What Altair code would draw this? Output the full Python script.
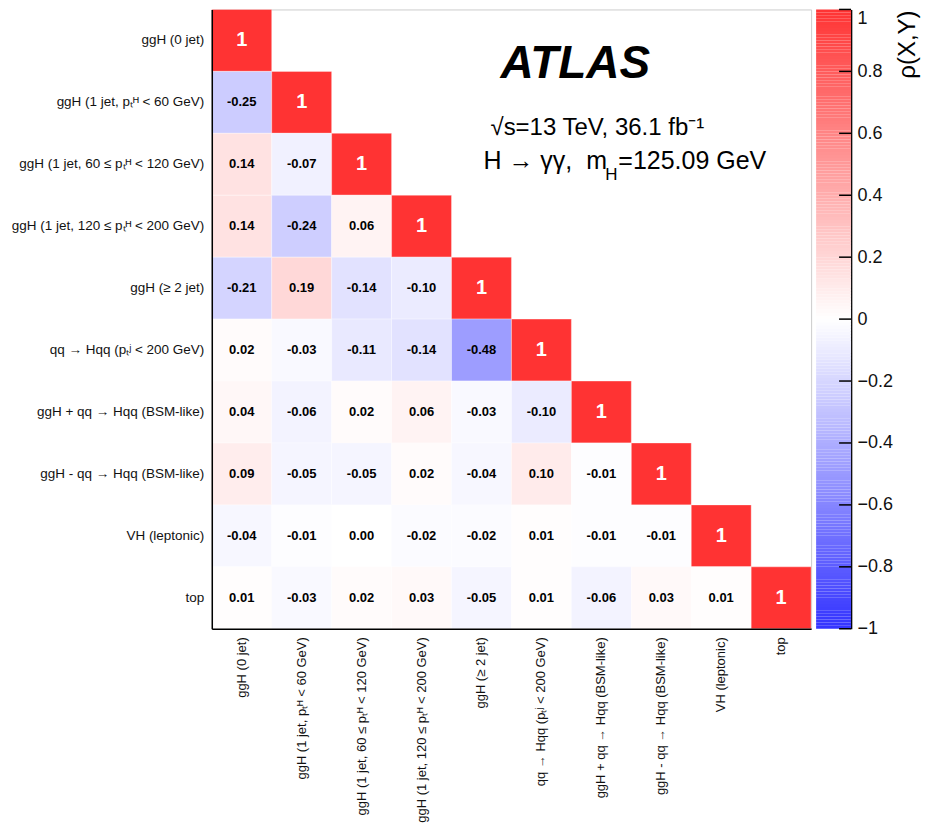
import altair as alt
import pandas as pd
import numpy as np

categories = [
    "ggH (0 jet)",
    "ggH (1 jet, pₜᴴ < 60 GeV)",
    "ggH (1 jet, 60 ≤ pₜᴴ < 120 GeV)",
    "ggH (1 jet, 120 ≤ pₜᴴ < 200 GeV)",
    "ggH (≥ 2 jet)",
    "qq → Hqq (pₜʲ < 200 GeV)",
    "ggH + qq → Hqq (BSM-like)",
    "ggH - qq → Hqq (BSM-like)",
    "VH (leptonic)",
    "top",
]

rows_vals = [
    [1],
    [-0.25, 1],
    [0.14, -0.07, 1],
    [0.14, -0.24, 0.06, 1],
    [-0.21, 0.19, -0.14, -0.10, 1],
    [0.02, -0.03, -0.11, -0.14, -0.48, 1],
    [0.04, -0.06, 0.02, 0.06, -0.03, -0.10, 1],
    [0.09, -0.05, -0.05, 0.02, -0.04, 0.10, -0.01, 1],
    [-0.04, -0.01, 0.00, -0.02, -0.02, 0.01, -0.01, -0.01, 1],
    [0.01, -0.03, 0.02, 0.03, -0.05, 0.01, -0.06, 0.03, 0.01, 1],
]

tick_values = [-1, -0.8, -0.6, -0.4, -0.2, 0, 0.2, 0.4, 0.6, 0.8, 1]

recs = []
for i, row in enumerate(rows_vals):
    for j, v in enumerate(row):
        recs.append({
            "row": categories[i],
            "col": categories[j],
            "v": v,
            "diag": i == j,
            "label": "1" if i == j else f"{v:.2f}",
        })
df = pd.DataFrame(recs)

FONT = "Liberation Sans"
color_scale = alt.Scale(domain=[-1, 0, 1], range=["#3333ff", "#ffffff", "#ff3333"],
                        interpolate="rgb")

x_enc = alt.X(
    "col:N",
    scale=alt.Scale(domain=categories, paddingInner=0, paddingOuter=0),
    axis=alt.Axis(title=None, labelAngle=270, labelAlign="right", labelBaseline="middle",
                  labelPadding=8, ticks=False, domainColor="black", domainWidth=1.5,
                  labelFontSize=13, labelColor="#111111", labelLimit=400),
)
y_enc = alt.Y(
    "row:N",
    scale=alt.Scale(domain=categories, paddingInner=0, paddingOuter=0),
    axis=alt.Axis(title=None, labelPadding=8, ticks=False, domainColor="black", domainWidth=1.5,
                  labelFontSize=13.5, labelColor="#111111", labelLimit=400,
                  minExtent=203, maxExtent=203),
)

base = alt.Chart(df)
heat = base.mark_rect(stroke="white", strokeOpacity=0.35, strokeWidth=1).encode(
    x=x_enc, y=y_enc,
    color=alt.Color("v:Q", scale=color_scale, legend=None),
)
text_off = base.transform_filter("!datum.diag").mark_text(
    fontWeight="bold", fontSize=13, color="black", font=FONT
).encode(x=x_enc, y=y_enc, text="label:N")
text_diag = base.transform_filter("datum.diag").mark_text(
    fontWeight="bold", fontSize=20, color="white", font=FONT
).encode(x=x_enc, y=y_enc, text="label:N")


def annot(txt, x, y, size, **kw):
    return alt.Chart(pd.DataFrame({"t": [txt]})).mark_text(
        align="left", baseline="alphabetic", fontSize=size, font=FONT, color="black", **kw
    ).encode(x=alt.value(x), y=alt.value(y), text="t:N")


atlas = annot("ATLAS", 289, 69, 46, fontWeight="bold", fontStyle="italic")
lumi = annot("√s=13 TeV, 36.1 fb⁻¹", 279, 126, 24)
proc1 = annot("H → γγ, \u00a0m", 272, 160, 25)
proc_sub = annot("H", 394, 171, 17)
proc2 = annot("=125.09 GeV", 407, 160, 25)

main = alt.layer(heat, text_off, text_diag, atlas, lumi, proc1, proc_sub, proc2).properties(
    width=600, height=620, view=alt.ViewBackground(stroke="#cccccc", strokeWidth=1)
)

# colour bar
edges = np.linspace(-1, 1, 201)
cb_df = pd.DataFrame({"v": edges[:-1], "v2": edges[1:], "m": (edges[:-1] + edges[1:]) / 2})
cb_y_scale = alt.Scale(domain=[-1, 1], nice=False, zero=False)
cb_rect = alt.Chart(cb_df).mark_rect().encode(
    y=alt.Y("v:Q", scale=cb_y_scale,
            axis=alt.Axis(orient="right", values=tick_values, format="~g", ticks=False,
                          labelPadding=6, labelFontSize=18, labelColor="#111111",
                          labelBaseline={"condition": {"test": "datum.value >= 1", "value": "top"},
                                         "value": "middle"},
                          domainColor="black", domainWidth=1.5, title=None, grid=False,
                          labelFlush=False, labelOverlap=False)),
    y2="v2:Q",
    color=alt.Color("m:Q", scale=color_scale, legend=None),
)
cb_ticks = alt.Chart(pd.DataFrame({"t": tick_values})).mark_rule(color="black", strokeWidth=1.5).encode(
    y=alt.Y("t:Q", scale=cb_y_scale), x=alt.value(23), x2=alt.value(35)
)
cb_title = alt.Chart(pd.DataFrame({"t": ["ρ(X,Y)"]})).mark_text(
    angle=270, align="right", baseline="middle", fontSize=24, font=FONT, color="black"
).encode(x=alt.value(92), y=alt.value(1), text="t:N")

colorbar = alt.layer(cb_rect, cb_ticks, cb_title).properties(
    width=35, height=620, view=alt.ViewBackground(stroke="transparent")
)

chart = alt.hconcat(main, colorbar, spacing=3).properties(
    padding={"left": 0, "top": -1, "right": 0, "bottom": 0}
).configure(font=FONT).configure_axis(labelFont=FONT)

chart.save("out.html", embed_options={"renderer": "svg", "actions": False})
